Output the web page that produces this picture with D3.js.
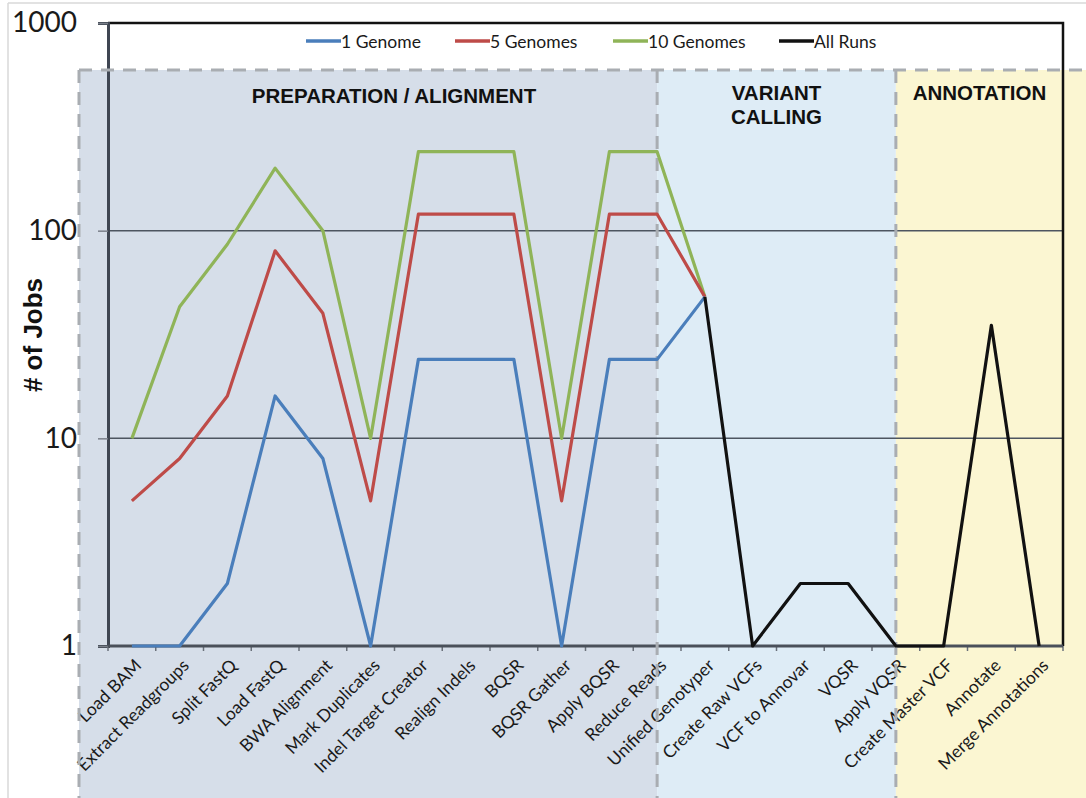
<!DOCTYPE html>
<html>
<head>
<meta charset="utf-8">
<script src="https://cdn.jsdelivr.net/npm/d3@7"></script>
<style>
  html, body { margin: 0; padding: 0; background: #fff; }
  svg { display: block; }
</style>
</head>
<body>
<svg id="chart" width="1086" height="798"></svg>
<script>
// Pipeline steps along the x axis
const categories = [
  "Load BAM", "Extract Readgroups", "Split FastQ", "Load FastQ", "BWA Alignment",
  "Mark Duplicates", "Indel Target Creator", "Realign Indels", "BQSR", "BQSR Gather",
  "Apply BQSR", "Reduce Reads", "Unified Genotyper", "Create Raw VCFs", "VCF to Annovar",
  "VQSR", "Apply VQSR", "Create Master VCF", "Annotate", "Merge Annotations"
];

// Number of jobs per step (null = step not part of that series)
const genome1  = [1, 1, 2, 16, 8, 1, 24, 24, 24, 1, 24, 24, 48, null, null, null, null, null, null, null];
const genome5  = [5, 8, 16, 80, 40, 5, 120, 120, 120, 5, 120, 120, 48, null, null, null, null, null, null, null];
const genome10 = [10, 43, 86, 200, 100, 10, 240, 240, 240, 10, 240, 240, 48, null, null, null, null, null, null, null];
const allRuns  = [null, null, null, null, null, null, null, null, null, null, null, null, 48, 1, 2, 2, 1, 1, 35, 1];

const seriesNames = ["1 Genome", "5 Genomes", "10 Genomes", "All Runs"];
const yTicks = [1, 10, 100, 1000];
const gridValues = [10, 100];

// Pipeline stages: step where each shaded band ends
const stageNames = ["PREPARATION / ALIGNMENT", "VARIANT CALLING", "ANNOTATION"];
const stageEnds = ["Reduce Reads", "Apply VQSR", null];

const colors = { "1 Genome": "#4a7ebb", "5 Genomes": "#be4b48", "10 Genomes": "#8fb458", "All Runs": "#111111" };
const stageFills = ["#d6dee9", "#deecf6", "#fbf6d2"];

const svg = d3.select("#chart");
const W = 1086, H = 798;
const plot = { left: 108, right: 1063, top: 23, bottom: 646 };
const bandTop = 70, bandLeft = 79;

const x = d3.scaleBand().domain(categories).range([plot.left, plot.right]).padding(0);
const cx = c => x(c) + x.bandwidth() / 2;
const y = d3.scaleLog().domain([1, 1000]).range([plot.bottom, plot.top]);

// faint outer frame
svg.append("line").attr("x1", 8).attr("x2", W).attr("y1", 3).attr("y2", 3).attr("stroke", "#d8d8d8").attr("stroke-width", 1.5);
svg.append("line").attr("x1", 8).attr("x2", 8).attr("y1", 3).attr("y2", H).attr("stroke", "#d8d8d8").attr("stroke-width", 1.5);

// Stage bands
const stageBounds = [];
let prev = bandLeft;
stageNames.forEach((n, i) => {
  const end = stageEnds[i] ? cx(stageEnds[i]) : W;
  stageBounds.push([prev, end]);
  prev = end;
});
svg.append("g").selectAll("rect").data(stageBounds).join("rect")
  .attr("x", d => d[0]).attr("y", bandTop)
  .attr("width", d => d[1] - d[0]).attr("height", H - bandTop)
  .attr("fill", (d, i) => stageFills[i]);

// Gridlines
svg.append("g").selectAll("line").data(gridValues).join("line")
  .attr("x1", plot.left).attr("x2", plot.right)
  .attr("y1", d => y(d)).attr("y2", d => y(d))
  .attr("stroke", "#4d5560").attr("stroke-width", 1.5);

// Plot frame (top and right)
svg.append("path")
  .attr("d", `M${plot.left},${plot.top}H${plot.right}V${plot.bottom}`)
  .attr("fill", "none").attr("stroke", "#111").attr("stroke-width", 2.5);

// Y axis
const yAxis = svg.append("g").attr("transform", `translate(${plot.left},0)`)
  .call(d3.axisLeft(y).tickValues(yTicks).tickFormat(d3.format("d")).tickSize(10).tickPadding(21));
yAxis.select(".domain").attr("stroke", "#3f4652").attr("stroke-width", 3);
yAxis.selectAll(".tick line").attr("stroke", "#7a808a").attr("stroke-width", 1.5);
yAxis.selectAll(".tick text").attr("font-family", "Lato, sans-serif").attr("font-size", 28).attr("fill", "#1a1a1a");

// X axis line with ticks between steps
const boundaries = categories.map(c => x(c)).concat([plot.right]);
svg.append("g").selectAll("line").data(boundaries).join("line")
  .attr("x1", d => d).attr("x2", d => d)
  .attr("y1", plot.bottom).attr("y2", plot.bottom + 5)
  .attr("stroke", "#6a707a").attr("stroke-width", 1.5);
svg.append("line").attr("x1", plot.left).attr("x2", plot.right)
  .attr("y1", plot.bottom).attr("y2", plot.bottom)
  .attr("stroke", "#4a505a").attr("stroke-width", 3);

// X labels rotated 45 degrees
svg.append("g").selectAll("text").data(categories).join("text")
  .attr("transform", c => `translate(${cx(c) + 6},${plot.bottom + 16}) rotate(-45)`)
  .attr("text-anchor", "end")
  .attr("dominant-baseline", "central")
  .attr("font-family", "Lato, sans-serif").attr("font-size", 17.5).attr("fill", "#1a1a1a")
  .text(c => c);

// Dashed stage borders
const dash = { stroke: "#a9adb2", width: 3, pattern: "13,9" };
svg.append("line").attr("x1", bandLeft).attr("x2", W).attr("y1", bandTop).attr("y2", bandTop)
  .attr("stroke", dash.stroke).attr("stroke-width", dash.width).attr("stroke-dasharray", dash.pattern);
svg.append("g").selectAll("line").data(stageBounds.map(d => d[0])).join("line")
  .attr("x1", d => d).attr("x2", d => d).attr("y1", bandTop).attr("y2", H)
  .attr("stroke", dash.stroke).attr("stroke-width", dash.width).attr("stroke-dasharray", dash.pattern);

// Stage titles
const titleFont = "'Liberation Sans', Arial, sans-serif";
const titles = svg.append("g").attr("font-family", titleFont).attr("font-weight", "bold")
  .attr("font-size", 20.5).attr("fill", "#111").attr("text-anchor", "middle");
titles.append("text").attr("x", 394).attr("y", 103).text(stageNames[0]);
const vc = titles.append("text").attr("x", (stageBounds[1][0] + stageBounds[1][1]) / 2).attr("y", 100);
stageNames[1].split(" ").forEach((w, i) => vc.append("tspan")
  .attr("x", (stageBounds[1][0] + stageBounds[1][1]) / 2).attr("dy", i ? 24 : 0).text(w));
titles.append("text").attr("x", (stageBounds[2][0] + plot.right) / 2).attr("y", 100).text(stageNames[2]);

// Y axis title
svg.append("text")
  .attr("transform", "translate(42,335) rotate(-90)")
  .attr("text-anchor", "middle")
  .attr("font-family", titleFont).attr("font-weight", "bold").attr("font-size", 26).attr("fill", "#111")
  .text("# of Jobs");

// Series lines
const seriesData = { "1 Genome": genome1, "5 Genomes": genome5, "10 Genomes": genome10, "All Runs": allRuns };
const line = d3.line()
  .defined(d => d.v != null)
  .x(d => cx(d.c))
  .y(d => y(d.v));
["10 Genomes", "5 Genomes", "1 Genome", "All Runs"].forEach(name => {
  const pts = categories.map((c, i) => ({ c, v: seriesData[name][i] }));
  svg.append("path").datum(pts)
    .attr("d", line)
    .attr("fill", "none")
    .attr("stroke", colors[name])
    .attr("stroke-width", 3.2)
    .attr("stroke-linejoin", "round");
});

// Legend
const legendX = [306, 455, 613, 779];
const lg = svg.append("g").selectAll("g").data(seriesNames).join("g")
  .attr("transform", (d, i) => `translate(${legendX[i]},41)`);
lg.append("line").attr("x1", 0).attr("x2", 35).attr("y1", 0).attr("y2", 0)
  .attr("stroke", d => colors[d]).attr("stroke-width", 3.5);
lg.append("text").attr("x", 35).attr("y", 0).attr("dominant-baseline", "central")
  .attr("font-family", "Lato, sans-serif").attr("font-size", 17.5).attr("fill", "#1a1a1a")
  .text(d => d);
</script>
</body>
</html>
